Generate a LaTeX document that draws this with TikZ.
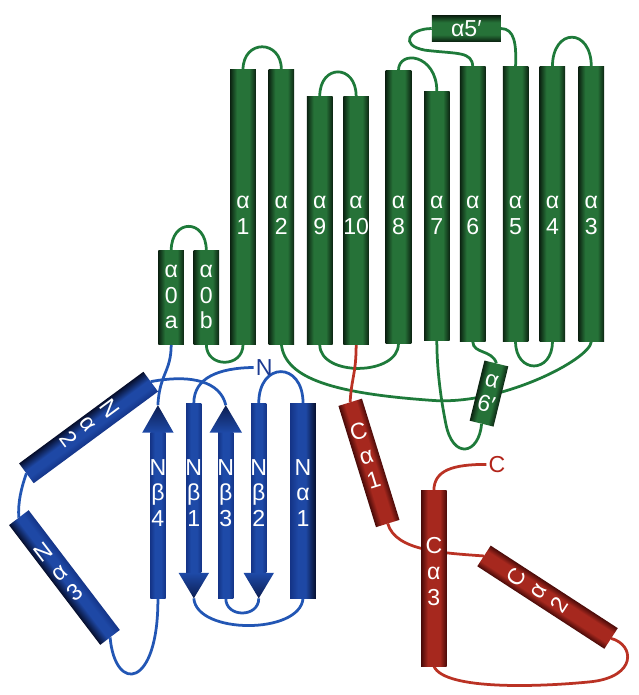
\documentclass[tikz,border=0pt]{standalone}
\usepackage{fontspec}
\newfontfamily\lf{Liberation Sans}
\usetikzlibrary{calc}
\definecolor{gd}{RGB}{12,36,18}
\definecolor{gm}{RGB}{38,114,56}
\definecolor{gl}{RGB}{30,122,58}
\definecolor{bd}{RGB}{6,14,44}
\definecolor{bm}{RGB}{30,72,165}
\definecolor{bs1}{RGB}{20,52,135}
\definecolor{bs2}{RGB}{30,74,168}
\definecolor{bl}{RGB}{34,86,180}
\definecolor{rd}{RGB}{72,10,8}
\definecolor{rm}{RGB}{166,40,30}
\definecolor{rl}{RGB}{186,50,36}
\definecolor{nlab}{RGB}{28,58,145}
\definecolor{clab}{RGB}{178,36,26}
\pgfdeclarehorizontalshading{gsh}{100bp}{color(0bp)=(gd); color(25bp)=(gd); color(38bp)=(gm); color(62bp)=(gm); color(75bp)=(gd); color(100bp)=(gd)}
\pgfdeclarehorizontalshading{rsh}{100bp}{color(0bp)=(rd); color(25bp)=(rd); color(38bp)=(rm); color(62bp)=(rm); color(75bp)=(rd); color(100bp)=(rd)}
\pgfdeclarehorizontalshading{nsh}{100bp}{color(0bp)=(bs1); color(25bp)=(bs1); color(40bp)=(bm); color(55bp)=(bm); color(75bp)=(bd); color(100bp)=(bd)}
\pgfdeclarehorizontalshading{ssh}{100bp}{color(0bp)=(bs1); color(25bp)=(bs1); color(40bp)=(bs2); color(60bp)=(bs2); color(75bp)=(bs1); color(100bp)=(bs1)}
\pgfdeclarelayer{back}
\pgfdeclarelayer{bg}
\pgfsetlayers{back,bg,main}
\newcommand{\lblf}{\lf\fontsize{23.5}{26}\selectfont}
\newcommand{\twol}[2]{\strut #1\\\strut #2}
\newcommand{\threel}[3]{\strut #1\\\strut #2\\\strut #3}
\newcommand{\tube}[5]{%
  \begin{scope}[transform canvas={shift={#2},rotate={#3-90}}]
    \shade[shading=#1] (-#5/2,-#4/2) rectangle (#5/2,#4/2);
  \end{scope}}
\tikzset{
  hx/.style={rectangle, inner sep=0pt, minimum width=26pt, shade, shading=#1},
  shaft/.style={rectangle, inner sep=0pt, minimum width=15.5pt, shade, shading=ssh},
  tl/.style={rectangle, inner sep=0pt, text=white, font=\lblf, align=center},
  lbl/.style={inner sep=0pt, text=white, font=\lblf, align=center},
  gloop/.style={draw=gl, line width=2.8pt},
  bloop/.style={draw=bl, line width=2.8pt},
  rloop/.style={draw=rl, line width=2.8pt},
  uphead/.style={top color=bd!60!bs1, bottom color=bs2},
  dnhead/.style={top color=bs2, bottom color=bd!60!bs1}
}
\begin{document}
\begin{tikzpicture}[x=1pt,y=-1pt]
\begin{pgfonlayer}{back}
\path[use as bounding box, fill=white] (0,0) rectangle (638,695);
\end{pgfonlayer}
% green vertical helices
\node[hx=gsh, minimum height=95pt] (a0a) at (174,302.5) {};
\node[hx=gsh, minimum height=95pt] (a0b) at (209.7,302.5) {};
\node[hx=gsh, minimum height=279pt] (a1) at (247,210.5) {};
\node[hx=gsh, minimum height=279pt] (a2) at (286,210.5) {};
\node[hx=gsh, minimum height=252pt] (a9) at (325,224) {};
\node[hx=gsh, minimum height=252pt] (a10) at (362,224) {};
\node[hx=gsh, minimum height=277pt] (a8) at (405,210.5) {};
\node[hx=gsh, minimum height=253pt] (a7) at (444,219.5) {};
\node[hx=gsh, minimum height=279pt] (a6) at (480.5,207.5) {};
\node[hx=gsh, minimum height=279pt] (a5) at (524,207.5) {};
\node[hx=gsh, minimum height=279pt] (a4) at (561.5,207.5) {};
\node[hx=gsh, minimum height=279pt] (a3) at (601,207.5) {};
% green horizontal / tilted helices
\tube{gsh}{(474,29)}{0}{70}{26}
\node[tl, minimum width=70pt, minimum height=26pt] (a5p) at (474,29) {α5′};
\tube{gsh}{(497,400)}{76.2}{63}{25}
\node[tl, rotate=-13.8, minimum width=25pt, minimum height=63pt, font=\lf\fontsize{23.5}{25}\selectfont] (a6p) at (497,400) {α\\6′};
% green labels
\node[lbl] (l0a) at (174,302.8) {\threel{α}{0}{a}};
\node[lbl] (l0b) at (209.7,302.8) {\threel{α}{0}{b}};
\node[lbl] (l1) at (247,219.8) {\twol{α}{1}};
\node[lbl] (l2) at (286,219.8) {\twol{α}{2}};
\node[lbl] (l9) at (325,219.8) {\twol{α}{9}};
\node[lbl] (l10) at (362,219.8) {\twol{α}{10}};
\node[lbl] (l8) at (405,219.8) {\twol{α}{8}};
\node[lbl] (l7) at (444,219.8) {\twol{α}{7}};
\node[lbl] (l6) at (480.5,219.8) {\twol{α}{6}};
\node[lbl] (l5) at (524,219.8) {\twol{α}{5}};
\node[lbl] (l4) at (561.5,219.8) {\twol{α}{4}};
\node[lbl] (l3) at (601,219.8) {\twol{α}{3}};
% blue strands
\node[shaft, minimum height=168pt] (nb4) at (160.5,524) {};
\node[shaft, minimum height=172pt] (nb1) at (197,496) {};
\node[shaft, minimum height=168pt] (nb3) at (229.5,524) {};
\node[shaft, minimum height=172pt] (nb2) at (263,496) {};
\coordinate (nb4t) at ([yshift=28pt]nb4.north);
\coordinate (nb3t) at ([yshift=28pt]nb3.north);
\coordinate (nb1t) at ([yshift=-26pt]nb1.south);
\coordinate (nb2t) at ([yshift=-26pt]nb2.south);
\shade[uphead] ([xshift=-16pt]nb4.north) -- ([xshift=16pt]nb4.north) -- (nb4t) -- cycle;
\shade[uphead] ([xshift=-16.5pt]nb3.north) -- ([xshift=16.5pt]nb3.north) -- (nb3t) -- cycle;
\shade[dnhead] ([xshift=-15.5pt]nb1.south) -- ([xshift=15.5pt]nb1.south) -- (nb1t) -- cycle;
\shade[dnhead] ([xshift=-15.5pt]nb2.south) -- ([xshift=15.5pt]nb2.south) -- (nb2t) -- cycle;
\node[hx=nsh, minimum height=198pt] (na1) at (308,509) {};
\tube{nsh}{(90,434.5)}{216.4}{157}{25}
\node[tl, rotate=-53.6, minimum width=25pt, minimum height=157pt] (na2) at (88,432) {\threel{N}{α}{2}};
\tube{nsh}{(65.5,587)}{-52.7}{153}{25}
\node[tl, rotate=37.3, minimum width=25pt, minimum height=153pt] (na3) at (62,584) {\threel{N}{α}{3}};
\node[lbl] (lb4) at (160.5,503.8) {\threel{N}{β}{4}};
\node[lbl] (lb1) at (197,503.8) {\threel{N}{β}{1}};
\node[lbl] (lb3) at (229.5,503.8) {\threel{N}{β}{3}};
\node[lbl] (lb2) at (263,503.8) {\threel{N}{β}{2}};
\node[lbl] (la1) at (308,503.8) {\threel{N}{α}{1}};
\node[inner sep=2pt, text=nlab, font=\lblf] (Nlab) at (268.5,373.5) {N};
% red helices
\tube{rsh}{(375,470.5)}{-72.8}{129}{25}
\node[tl, rotate=17.2, minimum width=25pt, minimum height=129pt] (ca1) at (373,466) {\threel{C}{α}{1}};
\tube{rsh}{(556.5,607)}{-33}{154}{25}
\node[tl, rotate=57, minimum width=25pt, minimum height=154pt] (ca2) at (549,602) {\threel{C}{α}{2}};
\node[hx=rsh, minimum height=178pt] (ca3) at (441,588) {};
\node[lbl] (lc3) at (441,583.8) {\threel{C}{α}{3}};
\node[inner sep=2pt, text=clab, font=\lblf] (Clab) at (505,472) {C};
% tube end points (named)
\coordinate (na2u) at (153.2,387.9);
\coordinate (na2l) at (26.8,481.1);
\coordinate (na3u) at (19.1,526.2);
\coordinate (na3l) at (111.9,647.8);
\coordinate (ca1u) at (355.9,408.9);
\coordinate (ca1l) at (394.1,532.1);
\coordinate (ca2u) at (491.9,565.1);
\coordinate (ca2l) at (621.1,648.9);
% connectors
\begin{pgfonlayer}{bg}
\draw[gloop] (a0a.north) .. controls +(0,-33) and +(0,-33) .. (a0b.north);
\draw[gloop] (a0b.south) .. controls +(0,24) and +(0,24) .. (a1.south);
\draw[gloop] (a1.north) .. controls +(0,-31) and +(0,-31) .. (a2.north);
\draw[gloop] (a2.south) .. controls (290,385) and (340,400) .. (440,407) .. controls (510,412) and (600,365) .. (a3.south);
\draw[gloop] (a3.north) .. controls +(0,-40) and +(0,-40) .. (a4.north);
\draw[gloop] (a4.south) .. controls +(0,33) and +(0,33) .. (a5.south);
\draw[gloop] (a5.north) .. controls (525,45) and (523,29) .. (a5p.east);
\draw[gloop] (a5p.west) .. controls (416,29) and (405,46) .. (432,51) .. controls (465,55) and (480,52) .. (a6.north);
\draw[gloop] (a6.south) .. controls (481,360) and (500,355) .. (a6p.north);
\draw[gloop] (a6p.south) .. controls (487,462) and (460,468) .. (453,430) .. controls (448,405) and (444,375) .. (a7.south);
\draw[gloop] (a7.north) .. controls (444,55) and (405,50) .. (a8.north);
\draw[gloop] (a8.south) .. controls +(0,33) and +(0,33) .. (a9.south);
\draw[gloop] (a9.north) .. controls +(0,-33) and +(0,-33) .. (a10.north);
\draw[bloop] (Nlab.west) .. controls (222,374) and (197,384) .. (nb1.north);
\draw[bloop] (nb1t) .. controls (200,645) and (305,645) .. (na1.south);
\draw[bloop] (na1.north) .. controls (308,367) and (263,367) .. (nb2.north);
\draw[bloop] (nb2t) .. controls (263,628) and (229.5,628) .. (nb3.south);
\draw[bloop] (nb3t) .. controls (224,388) and (195,380) .. (na2u);
\draw[bloop] (na2l) .. controls (22,495) and (18,510) .. (na3u);
\draw[bloop] (na3l) .. controls (117,705) and (161,700) .. (nb4.south);
\draw[bloop] (nb4t) .. controls (162,380) and (174,378) .. (a0a.south);
\draw[rloop] (a10.south) .. controls (362,380) and (357,385) .. (ca1u);
\draw[rloop] (ca1l) .. controls (402,560) and (450,562) .. (ca2u);
\draw[rloop] (ca2l) .. controls (645,655) and (648,688) .. (600,693) .. controls (550,698) and (452,702) .. (ca3.south);
\draw[rloop] (ca3.north) .. controls (441,478) and (460,472) .. (Clab.west);
\end{pgfonlayer}
\end{tikzpicture}
\end{document}
